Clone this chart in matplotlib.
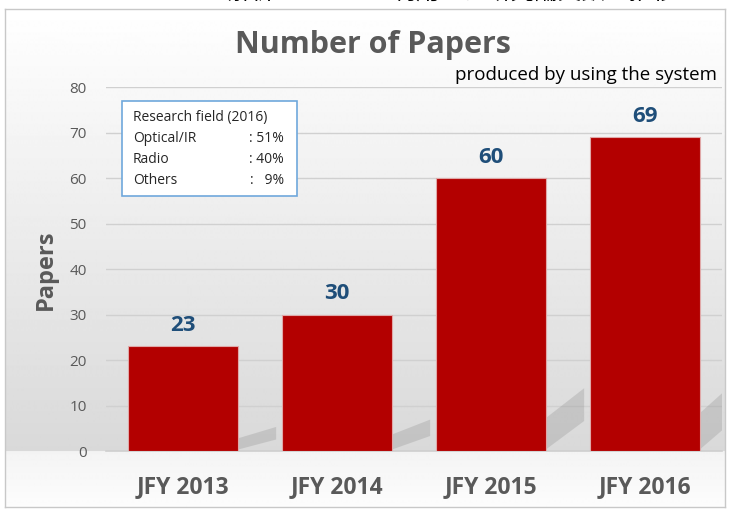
import numpy as np
import matplotlib
matplotlib.use("Agg")
import matplotlib.pyplot as plt
from matplotlib.patches import Rectangle, Polygon

plt.rcParams['font.family'] = ['Open Sans', 'Noto Sans CJK JP', 'DejaVu Sans']

categories = ["JFY 2013", "JFY 2014", "JFY 2015", "JFY 2016"]
papers = [23, 30, 60, 69]
yticks = [0, 10, 20, 30, 40, 50, 60, 70, 80]
title = "Number of Papers"
subtitle = "produced by using the system"
ylabel = "Papers"
box_lines = [("Research field (2016)", ""), ("Optical/IR", ": 51%"),
             ("Radio", ": 40%"), ("Others", ":   9%")]
top_jp = "解析システムを利用した研究論文数の推移"

W, H = 731, 511
fig = plt.figure(figsize=(W / 100, H / 100), dpi=100)
fig.patch.set_facecolor("white")

def fx(px):
    return px / W

def fy(py):
    return 1 - py / H

# background frame with gradient
fl, fr, ft, fb = 5, 725, 9, 507
bg = fig.add_axes([fx(fl), fy(fb), fx(fr - fl), (fb - ft) / H])
bg.set_xlim(0, 1)
bg.set_ylim(fb, ft)
rows = np.arange(ft, fb + 1)
base = 451
vals = np.where(rows <= base,
                1.0 - (rows - ft) / (base - ft) * 0.15,
                0.955 + (rows - base) / (fb - base) * 0.035)
img = np.repeat(vals[:, None], 2, axis=1)
bg.imshow(img, cmap="gray", vmin=0, vmax=1, aspect="auto",
          extent=[0, 1, fb, ft], interpolation="bilinear")
for s in bg.spines.values():
    s.set_color("#c8c8c8")
    s.set_linewidth(1.0)
bg.set_xticks([])
bg.set_yticks([])

# top clipped Japanese text (only its lower edge is visible in the reference)
fig.text(fx(452), fy(-8), top_jp, ha="center", va="center", fontsize=17,
         color="black", family=["Noto Sans CJK JP", "DejaVu Sans"], zorder=10)

# main axes
ax_l, ax_r, ax_t, ax_b = 106, 722, 87, 451
ax = fig.add_axes([fx(ax_l), fy(ax_b), fx(ax_r - ax_l), (ax_b - ax_t) / H])
ax.patch.set_alpha(0)
x = np.arange(len(categories))
bw = 0.71

# shadows
for xi, v in zip(x, papers):
    xr = xi + bw / 2
    pts = [(xr, 0.3), (xr, 0.12 * v), (xr + 0.25, 0.23 * v), (xr + 0.25, 0.11 * v)]
    ax.add_patch(Polygon(pts, closed=True, facecolor="#8a8a8a", alpha=0.28,
                         edgecolor="none", zorder=1))

ax.bar(x, papers, width=bw, color="#B30000", edgecolor="#e0a8a8",
       linewidth=0.8, zorder=3)
for xi, v in zip(x, papers):
    ax.text(xi, v + 2.2, str(v), ha="center", va="bottom", fontsize=16,
            fontweight="bold", color="#1F4E79", zorder=4)

ax.set_xlim(-0.5, 3.5)
ax.set_ylim(0, 80)
ax.set_yticks(yticks)
ax.set_yticklabels([str(t) for t in yticks], fontsize=11, color="#595959")
ax.yaxis.grid(True, color="#d0d0d0", linewidth=1.0, zorder=0)
ax.set_axisbelow(True)
ax.tick_params(axis="y", length=0, pad=14)
ax.tick_params(axis="x", length=0, pad=17)
ax.set_xticks(x)
ax.set_xticklabels(categories, fontsize=16.5, fontweight="bold", color="#595959")
for s in ["top", "right", "left"]:
    ax.spines[s].set_visible(False)
ax.spines["bottom"].set_color("#cfcfcf")
ax.spines["bottom"].set_linewidth(1.2)

fig.text(fx(46), fy(270), ylabel, rotation=90, ha="center", va="center",
         fontsize=17, fontweight="bold", color="#595959")

fig.text(fx(373), fy(45), title, ha="center", va="center", fontsize=22,
         fontweight="bold", color="#595959")
fig.text(fx(717), fy(75), subtitle, ha="right", va="center", fontsize=13.5,
         color="black")

# info box
bl, br, bt, bb = 122, 297, 101, 196
fig.patches.append(Rectangle((fx(bl), fy(bb)), fx(br - bl), (bb - bt) / H,
                             transform=fig.transFigure, facecolor="white",
                             edgecolor="#6fa8dc", linewidth=1.2, zorder=5))
ys = [117, 138, 159, 180]
for (a, b), yy in zip(box_lines, ys):
    fig.text(fx(133), fy(yy), a, ha="left", va="center", fontsize=10,
             color="#262626", zorder=6)
    if b:
        fig.text(fx(284), fy(yy), b, ha="right", va="center", fontsize=10,
                 color="#262626", zorder=6)

fig.savefig("out.png", dpi=100)
